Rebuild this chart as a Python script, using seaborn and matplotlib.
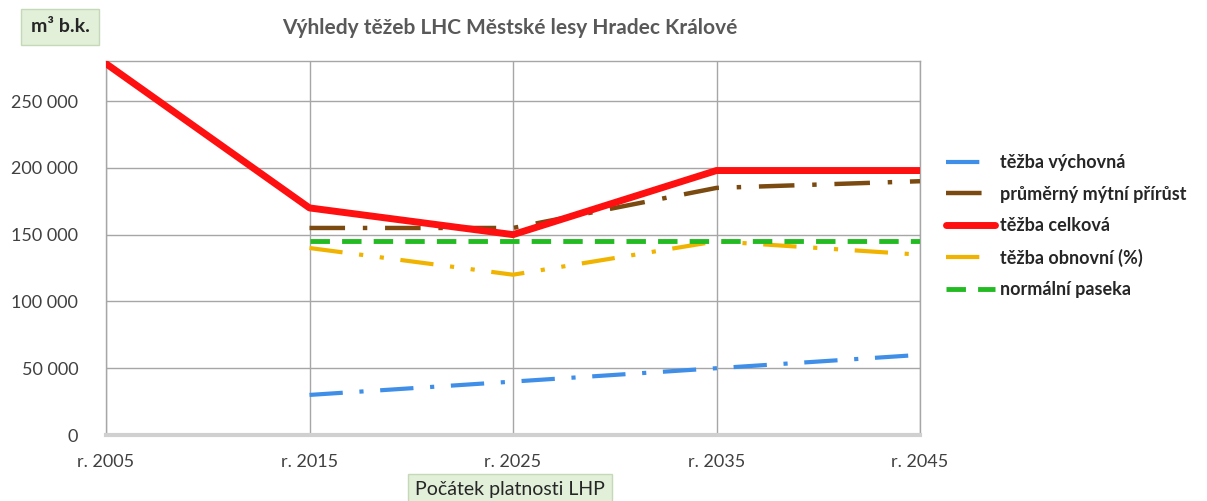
import pandas as pd
import matplotlib.pyplot as plt
import seaborn as sns

years = [2005, 2015, 2025, 2035, 2045]
year_labels = ['r. 2005', 'r. 2015', 'r. 2025', 'r. 2035', 'r. 2045']

tezba_vychovna = [None, 30000, 40000, 50000, 60000]
prumerny_prirust = [None, 155000, 155000, 185000, 190000]
tezba_celkova = [278000, 170000, 150000, 198000, 198000]
tezba_obnovni = [None, 140000, 120000, 145000, 135000]
normalni_paseka = [None, 145000, 145000, 145000, 145000]

series = [
    ('těžba výchovná', tezba_vychovna, '#3f8fe8', 3, (0, (8, 4, 1, 4)), 2),
    ('průměrný mýtní přírůst', prumerny_prirust, '#7a4a10', 3.2, (0, (8, 4, 1, 4)), 3),
    ('těžba celková', tezba_celkova, '#ff1010', 5, '-', 6),
    ('těžba obnovní (%)', tezba_obnovni, '#f0b400', 3, (0, (8, 4, 1, 4, 1, 4)), 4),
    ('normální paseka', normalni_paseka, '#22bb22', 3.5, (0, (4, 2.5)), 5),
]

sns.set_style("white")
plt.rcParams['font.family'] = ['Lato', 'DejaVu Sans']

fig = plt.figure(figsize=(12.07, 5.01), dpi=100)
ax = fig.add_axes([106 / 1207, 66 / 501, 814 / 1207, 374 / 501])

for name, vals, color, lw, ls, z in series:
    df = pd.DataFrame({'rok': years, 'hodnota': vals}).dropna()
    sns.lineplot(data=df, x='rok', y='hodnota', ax=ax, color=color, lw=lw,
                 linestyle=ls, label=name, zorder=z)

ax.set_xlim(2005, 2045)
ax.set_ylim(0, 280000)
ax.set_xticks(years)
ax.set_xticklabels(year_labels)
ax.set_yticks(range(0, 250001, 50000))
ax.set_yticklabels([f'{v:,}'.replace(',', ' ') for v in range(0, 250001, 50000)])
ax.grid(True, color='#a6a6a6', lw=1)
ax.set_axisbelow(True)
for s in ['top', 'right', 'left']:
    ax.spines[s].set_color('#a6a6a6')
    ax.spines[s].set_linewidth(1)
ax.spines['bottom'].set_color('#d0d0d0')
ax.spines['bottom'].set_linewidth(3)
ax.tick_params(axis='both', length=0, labelsize=13, colors='#404040')
ax.tick_params(axis='y', pad=20)
ax.tick_params(axis='x', pad=14)
ax.set_xlabel('')
ax.set_ylabel('')

handles, labels = ax.get_legend_handles_labels()
ax.get_legend().remove()
leg = fig.legend(handles, labels, loc='upper left', bbox_to_anchor=(930 / 1207, 1 - 138 / 501),
                 frameon=False, fontsize=13, handlelength=2.7, labelspacing=0.8,
                 handletextpad=0.25)
for t in leg.get_texts():
    t.set_fontweight('bold')
    t.set_color('#262626')

fig.text(510 / 1207, 1 - 28 / 501, 'Výhledy těžeb LHC Městské lesy Hradec Králové',
         ha='center', va='center', fontsize=15, fontweight='bold', color='#595959')
fig.text(60 / 1207, 1 - 27 / 501, 'm³ b.k.', ha='center', va='center', fontsize=14,
         fontweight='bold', color='#262626',
         bbox=dict(boxstyle='square,pad=0.5', fc='#e2efd9', ec='#c5d9b8'))
fig.text(510 / 1207, 1 - 489 / 501, 'Počátek platnosti LHP', ha='center', va='center',
         fontsize=14, color='#262626',
         bbox=dict(boxstyle='square,pad=0.35', fc='#e2efd9', ec='#c5d9b8'))

fig.savefig('out.png', dpi=100)
